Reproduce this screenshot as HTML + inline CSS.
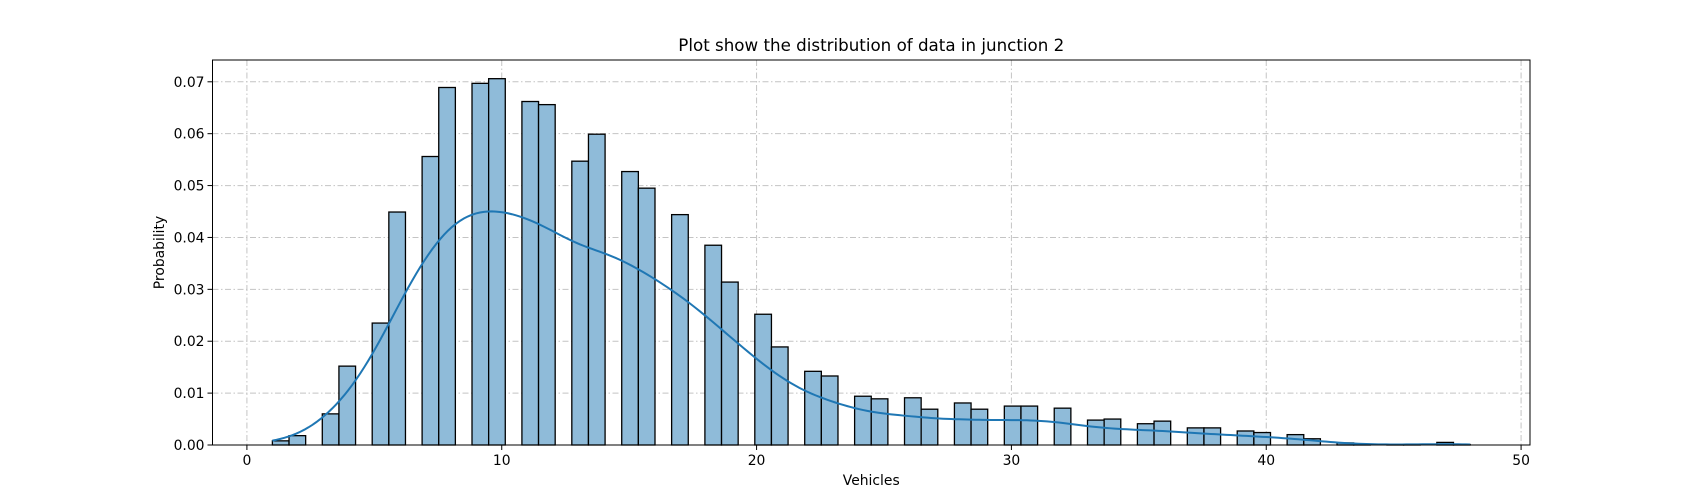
<!DOCTYPE html>
<html><head><meta charset="utf-8"><style>
html,body{margin:0;padding:0;background:#fff;}
svg{display:block;font-family:"DejaVu Sans","Liberation Sans",sans-serif;}
</style></head><body>
<svg id="chart" width="1700" height="500" xmlns="http://www.w3.org/2000/svg"></svg>
<script>
const values = [1,2,3,4,5,6,7,8,9,10,11,12,13,14,15,16,17,18,19,20,21,22,23,24,25,26,27,28,29,30,31,32,33,34,35,36,37,38,39,40,41,42,43,44,45,46,47,48];
const probs = [0.0008,0.0018,0.0060,0.0152,0.0235,0.0449,0.0556,0.0689,0.0697,0.0706,0.0662,0.0656,0.0547,0.0599,0.0527,0.0495,0.0444,0.0385,0.0314,0.0252,0.0189,0.0142,0.0133,0.0094,0.0089,0.0091,0.0069,0.0081,0.0069,0.0075,0.0075,0.0071,0.0048,0.0050,0.0041,0.0046,0.0033,0.0033,0.0027,0.0024,0.0020,0.0012,0.0004,0.0001,0.0001,0.0001,0.0005,0.0001];
const xTicks = [0,10,20,30,40,50];
const yTicks = [0,0.01,0.02,0.03,0.04,0.05,0.06,0.07];
const yTickLabels = ["0.00","0.01","0.02","0.03","0.04","0.05","0.06","0.07"];
const nBins = 72;
const bandwidth = 1.1;

const svg = document.getElementById('chart');
const NS = 'http://www.w3.org/2000/svg';
const L = 212.5, R = 1530, T = 60, B = 445;
const xmin = -1.35, xmax = 50.35, ymin = 0, ymax = 0.0742;
const X = v => L + (v - xmin) / (xmax - xmin) * (R - L);
const Y = v => B - (v - ymin) / (ymax - ymin) * (B - T);
function el(tag, attrs, parent) {
  const e = document.createElementNS(NS, tag);
  for (const k in attrs) e.setAttribute(k, attrs[k]);
  (parent || svg).appendChild(e);
  return e;
}
const grid = el('g', {});


xTicks.forEach(t => {
  const l = el('line', {x1: X(t), x2: X(t), y1: T, y2: B, stroke: '#c4c4c4', 'stroke-width': 1, 'stroke-dasharray': '6,2.5,1.5,2.5'}, grid);
  
  
});
yTicks.forEach(t => {
  const l = el('line', {x1: L, x2: R, y1: Y(t), y2: Y(t), stroke: '#c4c4c4', 'stroke-width': 1, 'stroke-dasharray': '6,2.5,1.5,2.5'}, grid);
  
  
});
const vmin = Math.min(...values), vmax = Math.max(...values);
const w = (vmax - vmin) / nBins;
const bars = el('g', {});


values.forEach((v, i) => {
  let k = Math.floor((v - vmin) / w);
  if (k >= nBins) k = nBins - 1;
  const x0 = vmin + k * w, x1 = x0 + w;
  const r = el('rect', {x: X(x0), y: Y(probs[i]), width: X(x1) - X(x0), height: Y(0) - Y(probs[i]), fill: '#8fbbd9', stroke: '#000', 'stroke-width': 1.3}, bars);
  
  
});
const tot = probs.reduce((a, b) => a + b, 0);
let pts = [];
for (let i = 0; i <= 300; i++) {
  const x = vmin + (vmax - vmin) * i / 300;
  let d = 0;
  values.forEach((v, j) => { d += probs[j] / tot * Math.exp(-0.5 * ((x - v) / bandwidth) ** 2) / (bandwidth * Math.sqrt(2 * Math.PI)); });
  pts.push(X(x).toFixed(2) + ',' + Y(d * w).toFixed(2));
}
const kde = el('polyline', {points: pts.join(' '), fill: 'none', stroke: '#1f77b4', 'stroke-width': 2});


const frame = el('rect', {x: L, y: T, width: R - L, height: B - T, fill: 'none', stroke: '#000', 'stroke-width': 1});


xTicks.forEach(t => {
  const tk = el('line', {x1: X(t), x2: X(t), y1: B, y2: B + 5, stroke: '#000', 'stroke-width': 1});
  
  
  const tx = el('text', {x: X(t), y: B + 20, 'text-anchor': 'middle', 'font-size': 13.9, fill: '#000'});
  tx.textContent = String(t);
  
  
});
yTicks.forEach((t, i) => {
  const tk = el('line', {x1: L - 5, x2: L, y1: Y(t), y2: Y(t), stroke: '#000', 'stroke-width': 1});
  
  
  const tx = el('text', {x: L - 8, y: Y(t) + 5, 'text-anchor': 'end', 'font-size': 13.9, fill: '#000'});
  tx.textContent = yTickLabels[i];
  
  
});
const title = el('text', {x: (L + R) / 2, y: 51, 'text-anchor': 'middle', 'font-size': 16.7, fill: '#000'});
title.textContent = 'Plot show the distribution of data in junction 2';


const xl = el('text', {x: (L + R) / 2, y: 485, 'text-anchor': 'middle', 'font-size': 13.9, fill: '#000'});
xl.textContent = 'Vehicles';


const yl = el('text', {x: 0, y: 0, 'text-anchor': 'middle', 'font-size': 13.9, fill: '#000', transform: 'translate(164,' + ((T + B) / 2) + ') rotate(-90)'});
yl.textContent = 'Probability';


</script>
</body></html>
